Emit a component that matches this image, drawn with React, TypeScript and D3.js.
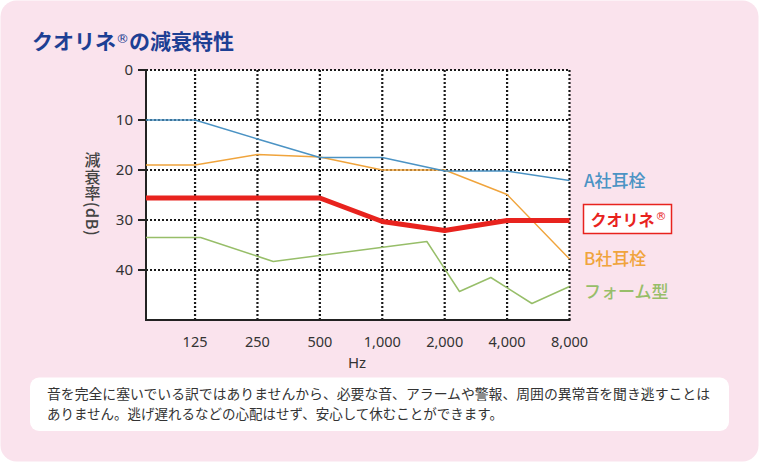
import React from "react";
import * as d3 from "d3";

const FREQ_MIN = 72.5;
const FREQ_MAX = 8000;
const freqTicks = [125, 250, 500, 1000, 2000, 4000, 8000];
const freqLabels = ["125", "250", "500", "1,000", "2,000", "4,000", "8,000"];
const dbTicks = [0, 10, 20, 30, 40];
const DB_MAX = 50;

const aFreq = [FREQ_MIN, 125, 250, 500, 1000, 2000, 4000, 8000];
const aDb = [10, 10, 13.8, 17.5, 17.5, 20.2, 20.2, 22.1];
const bFreq = [FREQ_MIN, 125, 250, 500, 1000, 2000, 4000, 8000];
const bDb = [19, 19, 16.9, 17.4, 20, 20, 24.9, 37.8];
const qFreq = [FREQ_MIN, 125, 250, 500, 1000, 2000, 4000, 8000];
const qDb = [25.6, 25.6, 25.6, 25.6, 30.3, 32.1, 30.1, 30.1];
const fFreq = [FREQ_MIN, 133, 298, 1641, 2357, 3340, 5270, 8000];
const fDb = [33.5, 33.5, 38.3, 34.3, 44.3, 41.5, 46.7, 43.3];

const seriesNames = ["A社耳栓", "クオリネ", "B社耳栓", "フォーム型"];
const yLabel = "減衰率(dB)";
const note1 = "音を完全に塞いでいる訳ではありませんから、必要な音、アラームや警報、周囲の異常音を聞き逃すことは";
const note2 = "ありません。逃げ遅れるなどの心配はせず、安心して休むことができます。";

const W = 760, H = 463;
const L = 146, R = 569.5, T = 70, B = 320;

const JP = "'Noto Sans CJK JP', 'Noto Sans', sans-serif";
const NUM = "'Noto Sans', 'Open Sans', sans-serif";
const REG = "'DejaVu Sans', 'Noto Sans', sans-serif";

export default function App() {
  const x = d3.scaleLog().base(2).domain([FREQ_MIN, FREQ_MAX]).range([L, R]);
  const y = d3.scaleLinear().domain([0, DB_MAX]).range([T, B]);
  const line = d3
    .line<[number, number]>()
    .x((d) => x(d[0]))
    .y((d) => y(d[1]));
  const mk = (f: number[], v: number[]) => line(f.map((ff, i) => [ff, v[i]] as [number, number])) || "";

  const blue = "#4b93c4";
  const orange = "#f0a43c";
  const green = "#97be69";
  const red = "#e8231e";

  return (
    <svg
      width={W}
      height={H}
      style={{ position: "absolute", left: 0, top: 0, display: "block" }}
      viewBox={`0 0 ${W} ${H}`}
    >
      <rect x={0} y={0} width={W} height={H} fill="#ffffff" />
      <rect x={0.5} y={0.5} width={W - 2} height={H - 2} rx={16} ry={16} fill="#fae3ed" />
      <text x={32} y={49} fontFamily={JP} fontWeight={700} fontSize={21} fill="#1d3f94">
        クオリネ<tspan fontFamily={REG} fontSize={13} fontWeight={400} dy={-6}>®</tspan>
        <tspan dy={6}>の減衰特性</tspan>
      </text>

      {/* plot */}
      <rect x={L} y={T} width={R - L} height={B - T} fill="#ffffff" />
      {dbTicks.slice(1).map((d) => (
        <line key={"h" + d} x1={L} x2={R} y1={y(d)} y2={y(d)} stroke="#1a1a1a" strokeWidth={2} strokeDasharray="2,2" />
      ))}
      <line x1={L} x2={R} y1={T} y2={T} stroke="#1a1a1a" strokeWidth={2} strokeDasharray="2,2" />
      {freqTicks.map((f) => (
        <line key={"v" + f} x1={x(f)} x2={x(f)} y1={T} y2={B} stroke="#1a1a1a" strokeWidth={2.2} strokeDasharray="2,2" />
      ))}
      <line x1={L} x2={L} y1={T - 1} y2={B + 1} stroke="#222" strokeWidth={2} />
      <line x1={L - 1} x2={R + 1} y1={B} y2={B} stroke="#222" strokeWidth={2} />
      {dbTicks.map((d) => (
        <g key={"yt" + d}>
          <line x1={L - 8} x2={L} y1={y(d)} y2={y(d)} stroke="#222" strokeWidth={2} />
          <text x={L - 13} y={y(d)} dy="0.36em" textAnchor="end" fontFamily={NUM} fontSize={15} fill="#333">
            {d}
          </text>
        </g>
      ))}
      {freqTicks.map((f, i) => (
        <text key={"xt" + f} x={x(f)} y={347} textAnchor="middle" fontFamily={NUM} fontSize={14.5} fill="#333">
          {freqLabels[i]}
        </text>
      ))}
      <text x={357} y={368} textAnchor="middle" fontFamily={NUM} fontSize={15} fill="#333">
        Hz
      </text>

      {/* y label */}
      <text
        x={92.5}
        y={152}
        fontFamily={JP}
        fontWeight={500}
        fontSize={16}
        fill="#444"
        style={{ writingMode: "vertical-rl", textOrientation: "mixed" } as any}
        letterSpacing={0.6}
      >
        {yLabel}
      </text>

      {/* series */}
      <path d={mk(fFreq, fDb)} fill="none" stroke={green} strokeWidth={1.5} strokeLinejoin="round" />
      <path d={mk(bFreq, bDb)} fill="none" stroke={orange} strokeWidth={1.4} strokeLinejoin="round" />
      <path d={mk(aFreq, aDb)} fill="none" stroke={blue} strokeWidth={1.5} strokeLinejoin="round" />
      <path d={mk(qFreq, qDb)} fill="none" stroke={red} strokeWidth={5} strokeLinejoin="round" />

      {/* legend */}
      <text x={584} y={187} fontFamily={JP} fontWeight={500} fontSize={17} fill={blue}>
        {seriesNames[0]}
      </text>
      <rect x={583.5} y={204.5} width={88} height={29} fill="#ffffff" stroke={red} strokeWidth={1.5} />
      <text x={590.5} y={226} fontFamily={JP} fontWeight={700} fontSize={16} fill={red}>
        {seriesNames[1]}
        <tspan fontFamily={REG} fontSize={11} fontWeight={400} dy={-6} dx={1}>®</tspan>
      </text>
      <text x={584} y={265} fontFamily={JP} fontWeight={500} fontSize={17} fill={orange}>
        {seriesNames[2]}
      </text>
      <text x={584} y={298} fontFamily={JP} fontWeight={500} fontSize={17} fill={green}>
        {seriesNames[3]}
      </text>

      {/* note */}
      <rect x={30} y={377.5} width={699} height={53.5} rx={9} ry={9} fill="#ffffff" />
      <text x={47} y={398.5} fontFamily={JP} fontSize={13.5} fill="#333" textLength={663} lengthAdjust="spacingAndGlyphs">
        {note1}
      </text>
      <text x={47} y={418.5} fontFamily={JP} fontSize={13.5} fill="#333">
        {note2}
      </text>
    </svg>
  );
}
